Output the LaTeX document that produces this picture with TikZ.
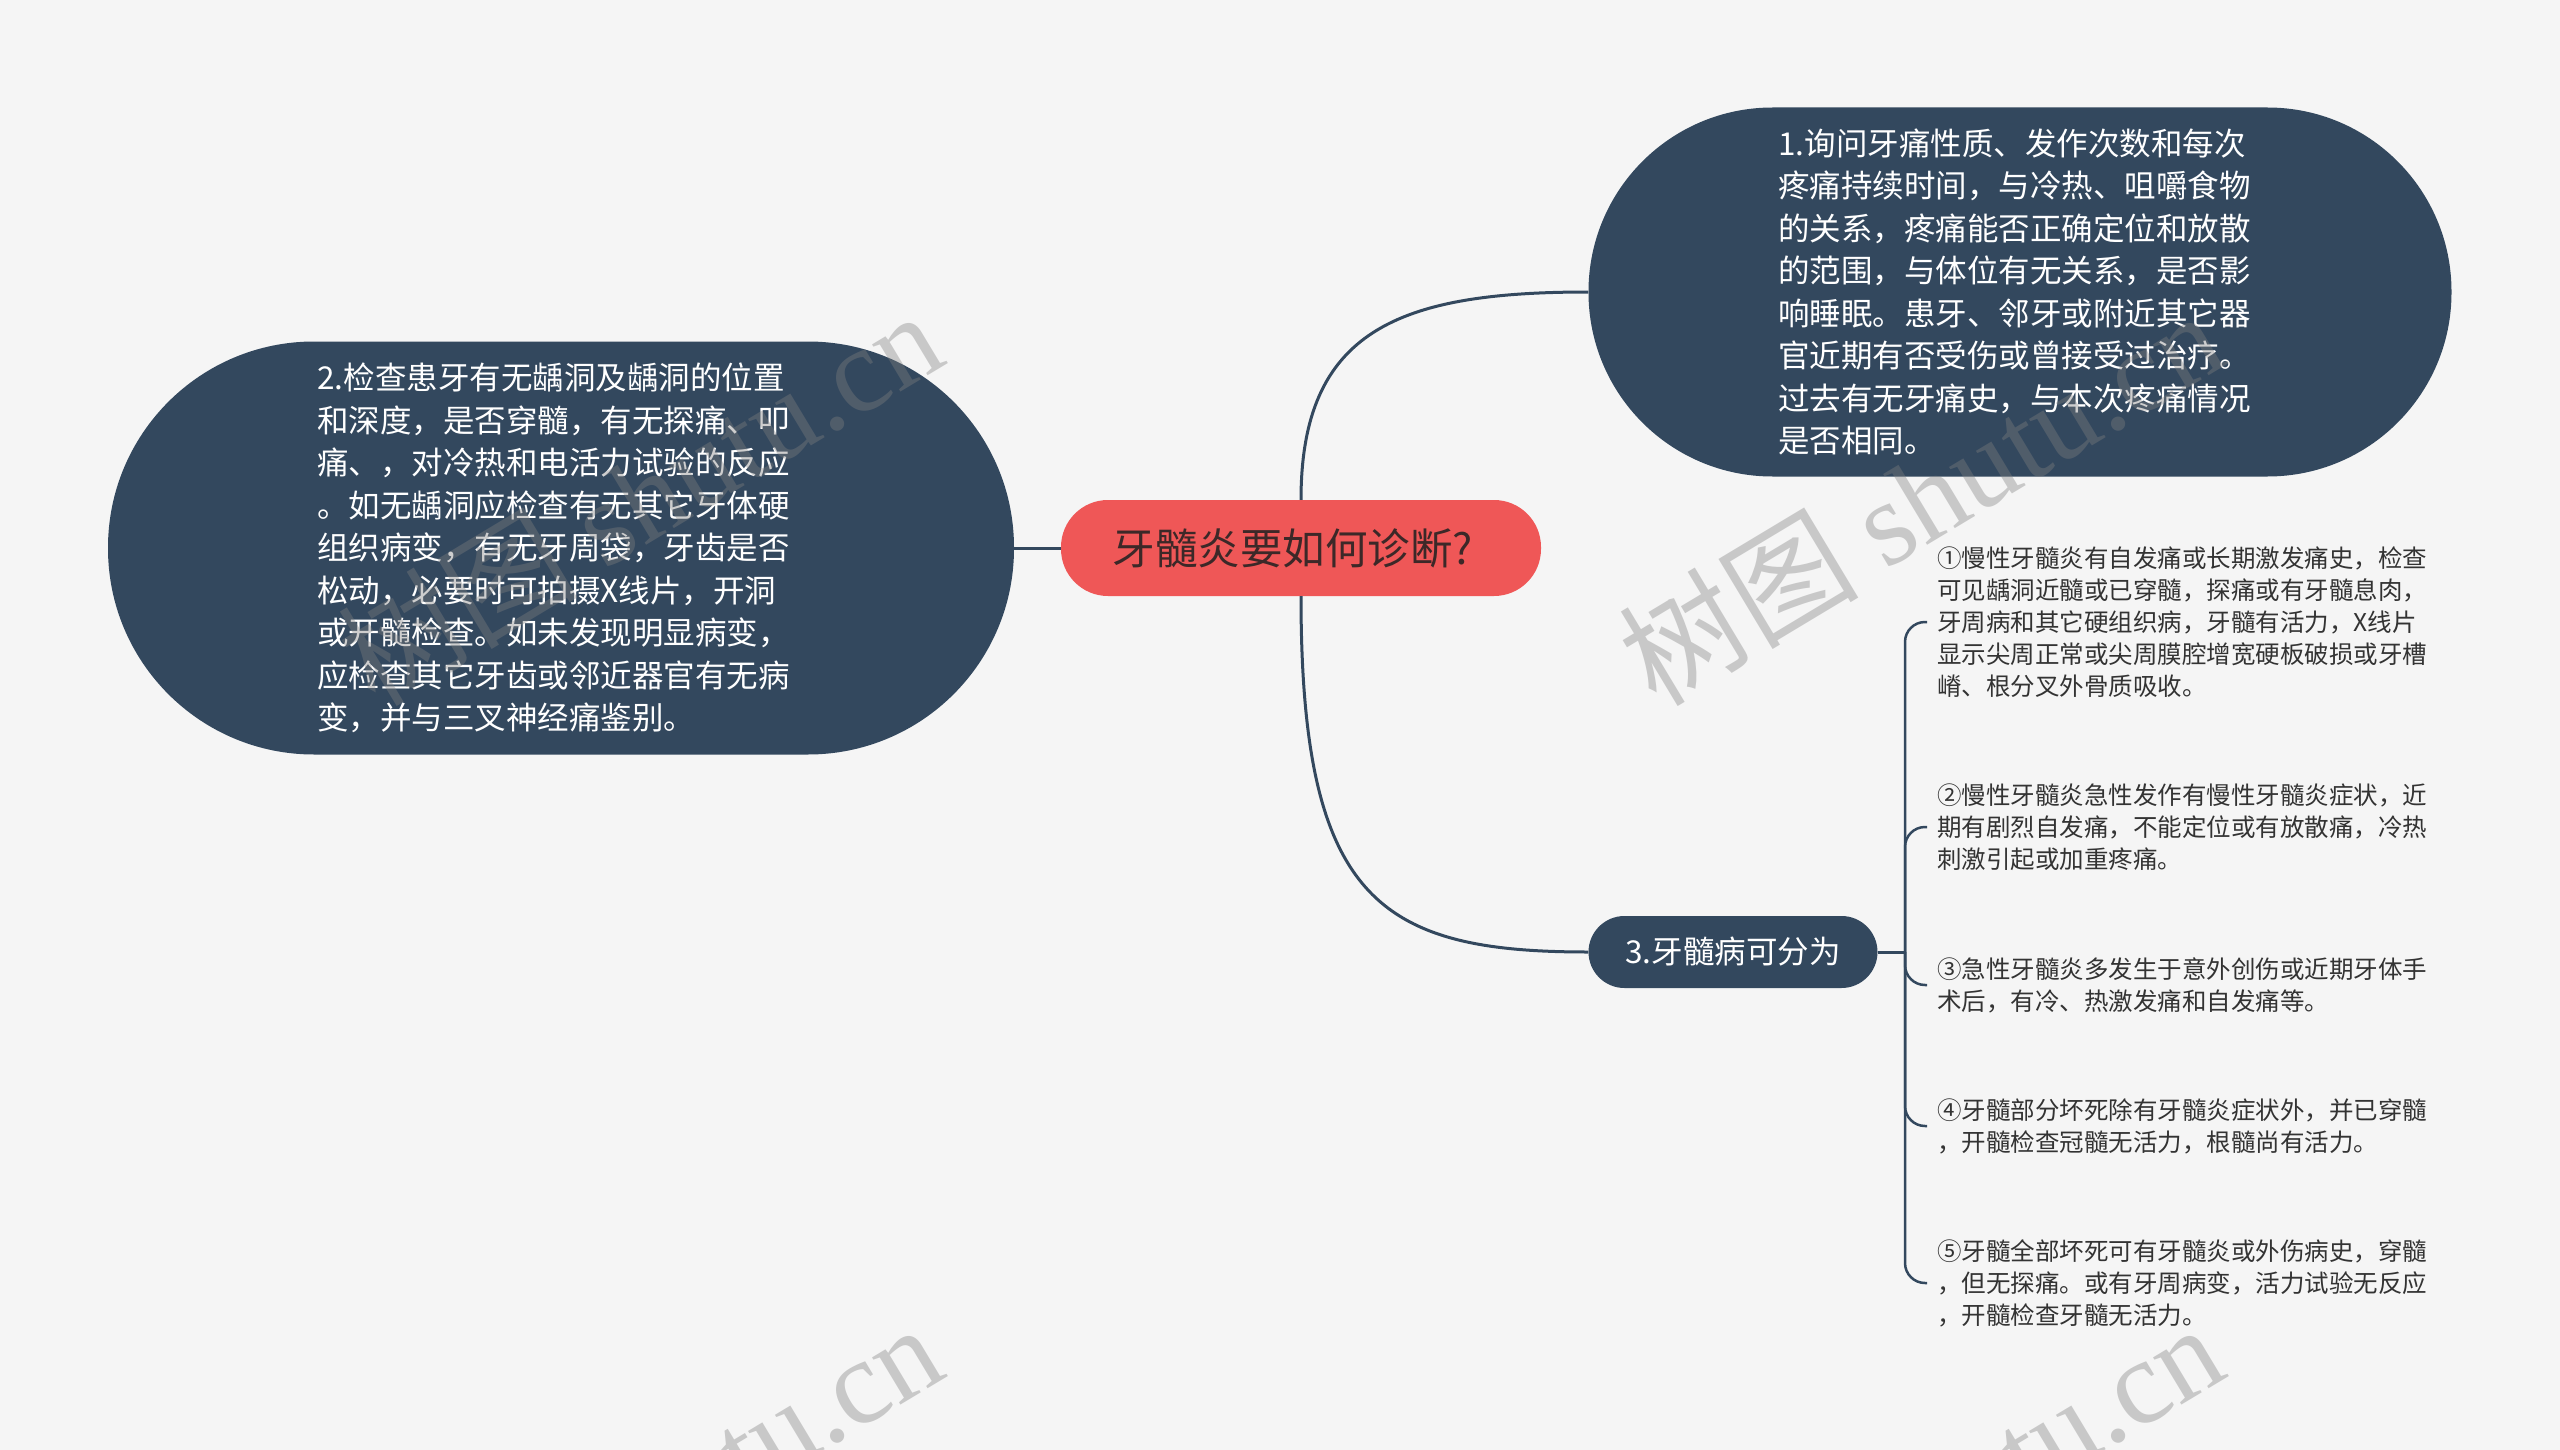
\documentclass[tikz,border=0pt]{standalone}
\usepackage{fontspec}
\setmainfont{Noto Sans CJK SC}
\newfontfamily\wmserif{Liberation Serif}
\definecolor{bgc}{HTML}{F5F5F5}
\definecolor{navy}{HTML}{33485E}
\definecolor{rootred}{HTML}{EF5757}
\definecolor{roottext}{HTML}{3C2828}
\definecolor{leaftext}{HTML}{333333}
\begin{document}
\begin{tikzpicture}[x=1pt,y=-1pt,
  conn/.style={draw=navy, line width=3pt},
  bignode/.style={fill=navy, text=white, align=left, inner sep=0pt, font=\fontsize{31.5}{42.5}\selectfont},
  rootnode/.style={fill=rootred, text=roottext, inner sep=0pt, minimum width=480pt, minimum height=96pt, rounded corners=47pt, font=\fontsize{42.5}{48}\selectfont},
  leafnode/.style={anchor=west, text=leaftext, align=left, inner xsep=10pt, inner ysep=0pt, font=\fontsize{24.5}{32}\selectfont},
  wm/.style={text=black!50, opacity=0.38, anchor=base east, rotate=31, inner sep=0pt, font=\fontsize{120}{120}\selectfont}]

\fill[bgc] (0,0) rectangle (2560,1450);
\useasboundingbox (0,0) rectangle (2560,1450);

\node[rootnode] (root) at (1301,548) {牙髓炎要如何诊断?\hspace*{16pt}};

\node[bignode, minimum width=863pt, minimum height=369pt, rounded corners=184pt] (q1) at (2020,292)
{1.询问牙痛性质、发作次数和每次\hspace*{16pt}\\疼痛持续时间，与冷热、咀嚼食物\\的关系，疼痛能否正确定位和放散\\的范围，与体位有无关系，是否影\\响睡眠。患牙、邻牙或附近其它器\\官近期有否受伤或曾接受过治疗。\\过去有无牙痛史，与本次疼痛情况\\是否相同。};

\node[bignode, minimum width=906pt, minimum height=413pt, rounded corners=206pt] (q2) at (561,548)
{2.检查患牙有无龋洞及龋洞的位置\hspace*{20pt}\\和深度，是否穿髓，有无探痛、叩\\痛、，对冷热和电活力试验的反应\\。如无龋洞应检查有无其它牙体硬\\组织病变，有无牙周袋，牙齿是否\\松动，必要时可拍摄X线片，开洞\\或开髓检查。如未发现明显病变，\\应检查其它牙齿或邻近器官有无病\\变，并与三叉神经痛鉴别。};

\node[bignode, minimum width=289pt, minimum height=72pt, rounded corners=36pt] (q3) at (1733,952) {3.牙髓病可分为};

\node[leafnode] (l1) at (1927,622) {①慢性牙髓炎有自发痛或长期激发痛史，检查\\可见龋洞近髓或已穿髓，探痛或有牙髓息肉，\\牙周病和其它硬组织病，牙髓有活力，X线片\\显示尖周正常或尖周膜腔增宽硬板破损或牙槽\\嵴、根分叉外骨质吸收。};
\node[leafnode] (l2) at (1927,827) {②慢性牙髓炎急性发作有慢性牙髓炎症状，近\\期有剧烈自发痛，不能定位或有放散痛，冷热\\刺激引起或加重疼痛。};
\node[leafnode] (l3) at (1927,985) {③急性牙髓炎多发生于意外创伤或近期牙体手\\术后，有冷、热激发痛和自发痛等。};
\node[leafnode] (l4) at (1927,1126) {④牙髓部分坏死除有牙髓炎症状外，并已穿髓\\，开髓检查冠髓无活力，根髓尚有活力。};
\node[leafnode] (l5) at (1927,1283) {⑤牙髓全部坏死可有牙髓炎或外伤病史，穿髓\\，但无探痛。或有牙周病变，活力试验无反应\\，开髓检查牙髓无活力。};

\coordinate (hub) at (1905,952);

\draw[conn] (root.west) -- (q2.east);
\draw[conn] (root.north) .. controls +(0,-170) and +(-189,0) .. (q1.west);
\draw[conn] (root.south) .. controls +(0,304) and +(-209,0) .. (q3.west);
\draw[conn] (q3.east) -- (hub);
\foreach \l in {l1,l2,l3,l4,l5}
  \draw[conn, line width=2.5pt, rounded corners=20pt] (hub) |- (\l.west);

% watermarks
\begin{scope}
\clip (0,0) rectangle (2560,1450);
\node[wm] (w1) at (2231,363) {树图 {\wmserif shutu.cn}};
\node[wm] (w2) at (950,363) {树图 {\wmserif shutu.cn}};
\node[wm] (w3) at (2231,1375) {树图 {\wmserif shutu.cn}};
\node[wm] (w4) at (950,1375) {树图 {\wmserif shutu.cn}};
\end{scope}
\end{tikzpicture}
\end{document}
